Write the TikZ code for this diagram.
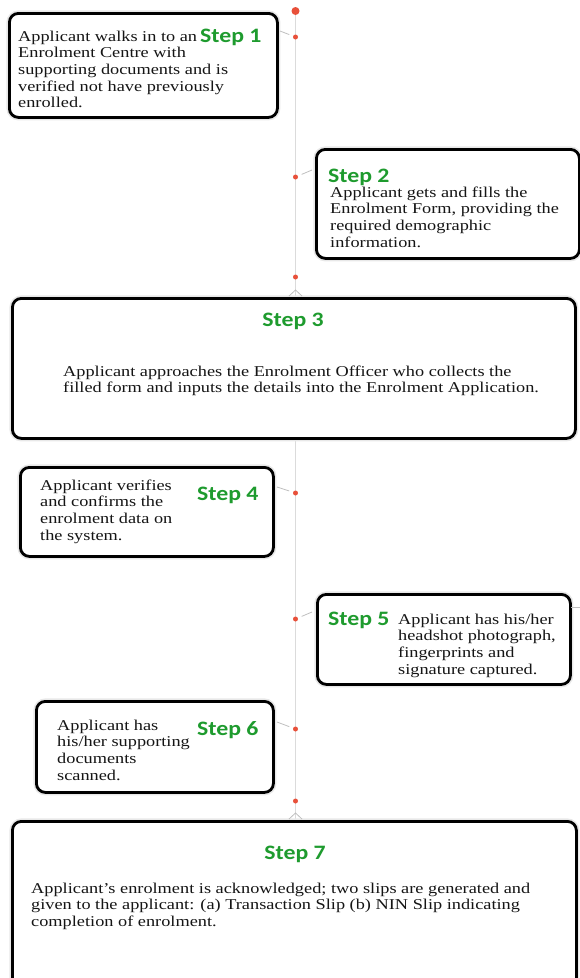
\documentclass[tikz,border=0pt]{standalone}
\usepackage{fontspec}
\newfontfamily\bodyfont[FakeStretch=1.22]{Liberation Serif}
\newfontfamily\stepfont[FakeStretch=1.16]{Carlito}
\definecolor{dotred}{HTML}{E8503A}
\definecolor{stepgreen}{HTML}{1E9B2E}
\definecolor{textgray}{HTML}{151515}
\tikzset{
  stepbox/.style={draw=black, line width=2.8pt, rounded corners=9pt, fill=white,
    preaction={draw=black!9, line width=6pt}, anchor=north west, inner sep=0pt},
  dotnode/.style={circle, fill=dotred, inner sep=0pt, minimum size=5pt},
  bigdot/.style={dotnode, minimum size=8pt},
  tickline/.style={draw=black!25, line width=0.8pt},
  spine/.style={draw=black!14, line width=1pt},
  steplabel/.style={font=\stepfont\bfseries\fontsize{20.5}{22}\selectfont, text=stepgreen, inner sep=0pt},
  body/.style={font=\bodyfont\fontsize{15}{16.7}\selectfont, text=textgray, inner sep=0pt, align=left, anchor=north west},
}
\begin{document}
\begin{tikzpicture}[x=1pt, y=-1pt]
\useasboundingbox (0,0) rectangle (580,978);
% spine
\coordinate (top) at (295.5,11);
\coordinate (bottom) at (295.5,978);
\draw[spine] (top) -- (bottom);
% boxes
\node[stepbox, minimum width=268pt, minimum height=104pt] (b1) at (8,12) {};
\node[stepbox, minimum width=263pt, minimum height=109pt] (b2) at (315,148) {};
\node[stepbox, minimum width=563pt, minimum height=140pt] (b3) at (11,297) {};
\node[stepbox, minimum width=253pt, minimum height=89pt] (b4) at (19,466) {};
\node[stepbox, minimum width=253pt, minimum height=90pt] (b5) at (316,593) {};
\node[stepbox, minimum width=237pt, minimum height=91pt] (b6) at (35,700) {};
\node[stepbox, minimum width=564pt, minimum height=200pt] (b7) at (11,820) {};
% dots
\node[bigdot] (d0) at (295.5,11) {};
\node[dotnode] (d1) at (295.5,37) {};
\node[dotnode] (d2) at (295.5,177) {};
\node[dotnode] (d3) at (295.5,277) {};
\node[dotnode] (d4) at (295.5,493) {};
\node[dotnode] (d5) at (295.5,619) {};
\node[dotnode] (d6) at (295.5,729) {};
\node[dotnode] (d7) at (295.5,801) {};
% ticks
\coordinate (t1) at (280,31);
\coordinate (t2) at (312,170);
\coordinate (t4) at (277,487);
\coordinate (t5) at (312,612);
\coordinate (t6) at (277,722);
\draw[tickline, shorten >=4pt] (t1) -- (d1);
\draw[tickline, shorten <=4pt] (d2) -- (t2);
\draw[tickline, shorten >=4pt] (t4) -- (d4);
\draw[tickline, shorten <=4pt] (d5) -- (t5);
\draw[tickline, shorten >=4pt] (t6) -- (d6);
\coordinate (c3a) at (289,296);
\coordinate (c3) at (295.5,290);
\coordinate (c3b) at (302,296);
\draw[tickline] (c3a) -- (c3) -- (c3b);
\coordinate (c7a) at (289,819);
\coordinate (c7) at (295.5,813);
\coordinate (c7b) at (302,819);
\draw[tickline] (c7a) -- (c7) -- (c7b);
\coordinate (r5) at (571,607);
\coordinate (r5e) at (580,607);
\draw[tickline] (r5) -- (r5e);
% step labels
\node[steplabel, anchor=base west] (s1) at (200,42) {Step 1};
\node[steplabel, anchor=base west] (s2) at (328,182) {Step 2};
\node[steplabel, anchor=base] (s3) at (293,326) {Step 3};
\node[steplabel, anchor=base west] (s4) at (197,500) {Step 4};
\node[steplabel, anchor=base west] (s5) at (328,625) {Step 5};
\node[steplabel, anchor=base west] (s6) at (197,735) {Step 6};
\node[steplabel, anchor=base] (s7) at (295,859) {Step 7};
% body texts
\node[body] (x1) at (18,30.5) {Applicant walks in to an\\Enrolment Centre with\\supporting documents and is\\verified not have previously\\enrolled.};
\node[body] (x2) at (330,186.5) {Applicant gets and fills the\\Enrolment Form, providing the\\required demographic\\information.};
\node[body] (x3) at (63,365.5) {Applicant approaches the Enrolment Officer who collects the\\filled form and inputs the details into the Enrolment Application.};
\node[body] (x4) at (40,479.5) {Applicant verifies\\and confirms the\\enrolment data on\\the system.};
\node[body] (x5) at (398,613.5) {Applicant has his/her\\headshot photograph,\\fingerprints and\\signature captured.};
\node[body] (x6) at (57,719.5) {Applicant has\\his/her supporting\\documents\\scanned.};
\node[body] (x7) at (31,882.5) {Applicant’s enrolment is acknowledged; two slips are generated and\\given to the applicant: (a) Transaction Slip (b) NIN Slip indicating\\completion of enrolment.};
\end{tikzpicture}
\end{document}
